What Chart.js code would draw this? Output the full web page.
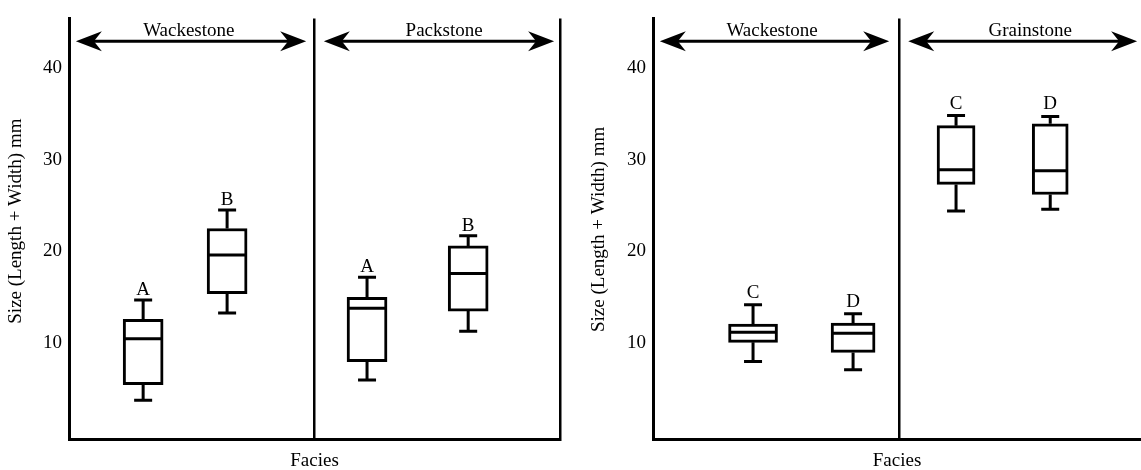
<!DOCTYPE html>
<html>
<head>
<meta charset="utf-8">
<script src="https://cdn.jsdelivr.net/npm/chart.js@4.4.1/dist/chart.umd.min.js"></script>
<style>
  html, body { margin: 0; padding: 0; background: #fff; }
  .wrap { position: relative; width: 1141px; height: 470px; }
  canvas { position: absolute; top: 0; }
  #leftChart { left: 0; }
  #rightChart { left: 570px; }
</style>
</head>
<body>
<div class="wrap">
  <canvas id="leftChart" width="570" height="470"></canvas>
  <canvas id="rightChart" width="571" height="470"></canvas>
</div>
<script>
// Shared axis
const yTicks = [10, 20, 30, 40];
const yTitle = "Size (Length + Width) mm";
const xTitle = "Facies";

// Left panel: Wackestone / Packstone
const leftFacies = ["Wackestone", "Packstone"];
const leftBoxes = ["A", "B", "A", "B"];
const leftMin = [3.8, 13.3, 6.0, 11.3];
const leftQ1 = [5.5, 15.4, 8.0, 13.5];
const leftMedian = [10.5, 19.6, 13.8, 17.6];
const leftQ3 = [12.6, 22.5, 15.0, 20.6];
const leftMax = [14.7, 24.5, 17.2, 21.7];

// Right panel: Wackestone / Grainstone
const rightFacies = ["Wackestone", "Grainstone"];
const rightBoxes = ["C", "D", "C", "D"];
const rightMin = [8.0, 7.1, 24.4, 24.6];
const rightQ1 = [10.1, 9.0, 27.3, 26.2];
const rightMedian = [11.2, 11.1, 28.9, 28.8];
const rightQ3 = [12.1, 12.2, 33.7, 33.9];
const rightMax = [14.2, 13.2, 34.8, 34.7];

Chart.defaults.font.family = "'Liberation Serif', 'Times New Roman', serif";
Chart.defaults.font.size = 19;
Chart.defaults.color = "#000";

const INK = "#000";
const FONT = "19px 'Liberation Serif', serif";

function arrowHead(ctx, tipX, tipY, dir) {
  // dir = -1 points left, +1 points right
  const len = 26, half = 10, notch = 18;
  ctx.beginPath();
  ctx.moveTo(tipX, tipY);
  ctx.lineTo(tipX - dir * len, tipY - half);
  ctx.lineTo(tipX - dir * notch, tipY);
  ctx.lineTo(tipX - dir * len, tipY + half);
  ctx.closePath();
  ctx.fill();
}

// whiskers, medians, letters, facies arrows and the y title
function boxExtras(p) {
  return {
    id: "boxExtras",
    afterDatasetsDraw(chart) {
      const ctx = chart.ctx;
      const xs = chart.scales.x;
      const ys = chart.scales.y;
      ctx.save();
      ctx.strokeStyle = INK;
      ctx.fillStyle = INK;
      ctx.lineWidth = 3;
      ctx.lineCap = "butt";
      ctx.font = FONT;
      ctx.textAlign = "center";
      ctx.textBaseline = "alphabetic";

      p.boxes.forEach((letter, i) => {
        const cx = xs.getPixelForValue(p.slots[i]);
        const capHalf = 9;
        const boxHalf = p.widths[i] / 2;
        const yMin = ys.getPixelForValue(p.min[i]);
        const yQ1 = ys.getPixelForValue(p.q1[i]);
        const yMed = ys.getPixelForValue(p.median[i]);
        const yQ3 = ys.getPixelForValue(p.q3[i]);
        const yMax = ys.getPixelForValue(p.max[i]);

        ctx.beginPath();
        ctx.moveTo(cx, yQ3); ctx.lineTo(cx, yMax);
        ctx.moveTo(cx, yQ1); ctx.lineTo(cx, yMin);
        ctx.moveTo(cx - capHalf, yMax); ctx.lineTo(cx + capHalf, yMax);
        ctx.moveTo(cx - capHalf, yMin); ctx.lineTo(cx + capHalf, yMin);
        ctx.moveTo(cx - boxHalf + 1, yMed); ctx.lineTo(cx + boxHalf - 1, yMed);
        ctx.stroke();

        ctx.fillText(letter, cx, yMax - p.letterGap);
      });

      const ay = ys.getPixelForValue(42.9);
      p.facies.forEach((name, g) => {
        const x1 = xs.getPixelForValue(p.arrowFrom[g]);
        const x2 = xs.getPixelForValue(p.arrowTo[g]);
        ctx.beginPath();
        ctx.moveTo(x1 + 15, ay);
        ctx.lineTo(x2 - 15, ay);
        ctx.stroke();
        arrowHead(ctx, x1, ay, -1);
        arrowHead(ctx, x2, ay, 1);
        ctx.fillText(name, xs.getPixelForValue(p.labelAt[g]), ay - 5);
      });

      // rotated y-axis title
      ctx.translate(chart.chartArea.left - p.titleGap, ys.getPixelForValue(p.titleAt));
      ctx.rotate(-Math.PI / 2);
      ctx.textBaseline = "middle";
      ctx.fillText(yTitle, 0, 0);
      ctx.restore();
    }
  };
}

function drawPanel(id, p) {
  const datasets = p.boxes.map((letter, i) => ({
    label: letter,
    data: [{ x: p.slots[i], y: [p.q1[i], p.q3[i]] }],
    backgroundColor: "#fff",
    borderColor: INK,
    borderWidth: 3,
    borderSkipped: false,
    barThickness: p.widths[i],
    grouped: false,
  }));

  return new Chart(document.getElementById(id), {
    type: "bar",
    data: { datasets },
    options: {
      responsive: false,
      animation: false,
      devicePixelRatio: 1,
      layout: { padding: { top: 13, right: p.padRight, bottom: 0, left: p.padLeft } },
      plugins: {
        legend: { display: false },
        tooltip: { enabled: false },
      },
      scales: {
        x: {
          type: "linear",
          min: 0,
          max: 100,
          offset: false,
          afterBuildTicks: (s) => { s.ticks = p.dividers.map((v) => ({ value: v })); },
          afterFit: (s) => { s.height = 31; },
          ticks: { display: false },
          grid: { offset: false, color: INK, lineWidth: 2.5, drawTicks: false },
          border: { display: true, color: INK, width: 3 },
          title: {
            display: true,
            text: xTitle,
            color: INK,
            font: { size: 19, lineHeight: 0.9 },
            padding: { top: 0, bottom: 0 },
          },
        },
        y: {
          min: -0.43,
          max: 45.38,
          afterBuildTicks: (s) => { s.ticks = yTicks.map((v) => ({ value: v })); },
          afterFit: (s) => { s.width = p.axisWidth; },
          ticks: { color: INK, padding: 7, font: { size: 19 } },
          grid: { drawOnChartArea: false, drawTicks: false },
          border: { display: true, color: INK, width: 3 },
        },
      },
    },
    plugins: [boxExtras(p)],
  });
}

drawPanel("leftChart", {
  facies: leftFacies,
  boxes: leftBoxes,
  min: leftMin, q1: leftQ1, median: leftMedian, q3: leftQ3, max: leftMax,
  slots: [15.1, 32.2, 60.7, 81.3],
  widths: [40, 40, 40, 40],
  dividers: [50, 100],
  arrowFrom: [1.4, 51.9],
  arrowTo: [48.3, 98.8],
  labelAt: [24.4, 76.4],
  letterGap: 5,
  titleAt: 23.3,
  titleGap: 52.5,
  padLeft: 8,
  padRight: 10,
  axisWidth: 61,
});

drawPanel("rightChart", {
  facies: rightFacies,
  boxes: rightBoxes,
  min: rightMin, q1: rightQ1, median: rightMedian, q3: rightQ3, max: rightMax,
  slots: [20.5, 41.0, 62.1, 81.4],
  widths: [49, 44, 38, 36],
  dividers: [50.4],
  arrowFrom: [1.4, 52.3],
  arrowTo: [48.4, 99.2],
  labelAt: [24.4, 77.3],
  letterGap: 7,
  titleAt: 22.4,
  titleGap: 53.5,
  padLeft: 20,
  padRight: 0,
  axisWidth: 63,
});
</script>
</body>
</html>
